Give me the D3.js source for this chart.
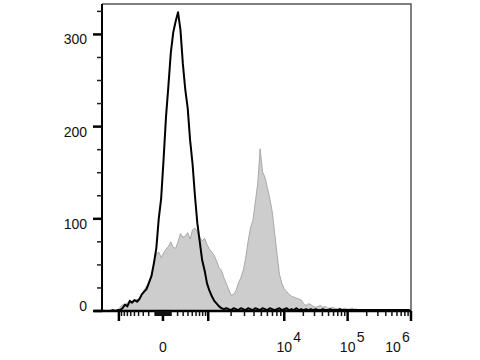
<!DOCTYPE html>
<html>
<head>
<meta charset="utf-8">
<script src="https://cdn.jsdelivr.net/npm/d3@7"></script>
<style>
  body { margin: 0; background: #fff; }
  text { font-family: "Liberation Sans", Arial, sans-serif; }
</style>
</head>
<body>
<script>
/*global d3*/

var width = 480, height = 360;

// histogram bins: 8 display channels each, 1024 channels total
var binWidth = 8;
var controlCounts = [
  0, 0, 0, 0, 1, 0, 1, 1, 3, 7, 5, 11, 9, 12, 10, 13,
  18, 21, 24, 31, 38, 52, 68, 100, 122, 164, 210, 244, 280, 302, 314, 324,
  305, 268, 240, 220, 185, 160, 125, 95, 75, 55, 44, 30, 22, 16, 11, 8,
  5, 3, 2, 3, 2, 1, 3, 2, 1, 3, 2, 1, 3, 2, 1, 3,
  2, 1, 3, 2, 1, 3, 2, 1, 2, 3, 1, 2, 3, 1, 2, 1,
  3, 1, 2, 1, 2, 1, 2, 1, 2, 1, 1, 2, 1, 1, 2, 1,
  1, 1, 2, 1, 1, 1, 1, 1, 1, 1, 1, 1, 1, 1, 1, 1,
  1, 1, 1, 1, 1, 1, 1, 1, 1, 1, 1, 1, 1, 1, 1, 1
];
var stainedCounts = [
  0, 0, 0, 0, 0, 0, 1, 4, 7, 5, 9, 7, 11, 10, 13, 12,
  19, 23, 27, 30, 39, 50, 62, 64, 58, 63, 67, 70, 75, 69, 68, 75,
  84, 80, 81, 85, 78, 88, 90, 86, 80, 76, 79, 72, 67, 64, 60, 54,
  47, 44, 36, 30, 23, 17, 18, 22, 30, 36, 44, 57, 75, 90, 98, 118,
  138, 176, 151, 145, 134, 122, 108, 85, 62, 40, 30, 24, 21, 18, 16, 15,
  14, 13, 12, 8, 6, 8, 7, 5, 4, 5, 6, 4, 5, 3, 3, 4,
  3, 2, 3, 2, 3, 2, 2, 3, 2, 2, 1, 1, 0, 0, 0, 0,
  0, 0, 0, 0, 0, 0, 0, 0, 0, 0, 0, 0, 0, 0, 0, 0
];

// logicle-style axis: decade values and the display channel where each sits
var decadeValues = [-1e3, 0, 1e3, 1e4, 1e5, 1e6];
var decadeChannels = [56, 202, 352, 604, 814, 1024];
var xLabels = [
  { value: 0, base: "0", exp: "" },
  { value: 1e4, base: "10", exp: "4" },
  { value: 1e5, base: "10", exp: "5" },
  { value: 1e6, base: "10", exp: "6" }
];
var yTicks = [0, 100, 200, 300];
var yMinor = [25, 50, 75, 125, 150, 175, 225, 250, 275, 325];
var yMax = 333;

var plotL = 102, plotR = 411, plotT = 4, plotB = 311;

var svg = d3.select("body")
    .append("svg")
    .attr("width", width)
    .attr("height", height);

var x = d3.scaleLinear().domain([0, 1024]).range([plotL, plotR]);
var y = d3.scaleLinear().domain([0, yMax]).range([plotB, plotT]);

// value -> decade units (symlog inside +-1e3, log10 outside)
function decadeUnits(v) {
  var a = Math.abs(v), s = v < 0 ? -1 : 1;
  if (a <= 1000) return s * Math.log1p(a / 400) / Math.log1p(2.5);
  return s * (1 + Math.log10(a / 1000));
}
var unitToChannel = d3.scaleLinear()
    .domain(decadeValues.map(decadeUnits))
    .range(decadeChannels);
function xv(v) { return x(unitToChannel(decadeUnits(v))); }
function yv(v) { return y(v); }

var minorValues = [];
d3.range(1, 10).forEach(function(k) {
  minorValues.push(-k * 100, -k * 10, k * 10, k * 100);
  if (k > 1) minorValues.push(k * 1e3, k * 1e4, k * 1e5);
});

function binX(d, i) { return x(i * binWidth + binWidth / 2); }

// stained (grey filled)
svg.append("path")
    .datum(stainedCounts)
    .attr("fill", "#cdcdcd")
    .attr("stroke", "#a9a9a9")
    .attr("stroke-width", 1)
    .attr("d", d3.area().x(binX).y0(y(0)).y1(yv));

// control (black line)
svg.append("path")
    .datum(controlCounts)
    .attr("fill", "none")
    .attr("stroke", "#000")
    .attr("stroke-width", 2)
    .attr("stroke-linejoin", "round")
    .attr("d", d3.line().x(binX).y(yv));

// frame: top and right in grey
svg.append("path")
    .attr("d", "M" + plotL + "," + plotT + "H" + plotR + "V" + plotB)
    .attr("fill", "none")
    .attr("stroke", "#555")
    .attr("stroke-width", 1.5);

// y axis
var yAxis = svg.append("g");
yAxis.append("line")
    .attr("x1", plotL).attr("x2", plotL)
    .attr("y1", plotT).attr("y2", plotB + 1)
    .attr("stroke", "#000").attr("stroke-width", 2);
yAxis.selectAll(".ymaj").data(yTicks).enter().append("line")
    .attr("x1", plotL - 9).attr("x2", plotL)
    .attr("y1", yv).attr("y2", yv)
    .attr("stroke", "#000").attr("stroke-width", 2.5);
yAxis.selectAll(".ymin").data(yMinor).enter().append("line")
    .attr("x1", plotL - 5).attr("x2", plotL)
    .attr("y1", yv).attr("y2", yv)
    .attr("stroke", "#222").attr("stroke-width", 1.5);
yAxis.selectAll("text").data(yTicks).enter().append("text")
    .attr("x", 87)
    .attr("y", function(d) { return d === 0 ? y(d) : y(d) + 10; })
    .attr("text-anchor", "end")
    .attr("font-size", 14)
    .attr("fill", "#111")
    .text(function(d) { return d; });

// x axis
var xAxis = svg.append("g");
xAxis.append("line")
    .attr("x1", plotL - 8).attr("x2", plotR)
    .attr("y1", plotB).attr("y2", plotB)
    .attr("stroke", "#000").attr("stroke-width", 2.5);
xAxis.selectAll(".xmaj").data(decadeValues).enter().append("line")
    .attr("x1", xv).attr("x2", xv)
    .attr("y1", plotB).attr("y2", plotB + 10)
    .attr("stroke", "#000").attr("stroke-width", 2.5);
xAxis.selectAll(".xmin").data(minorValues).enter().append("line")
    .attr("x1", xv).attr("x2", xv)
    .attr("y1", plotB).attr("y2", plotB + 5)
    .attr("stroke", "#111").attr("stroke-width", 1.5);

var lab = xAxis.selectAll(".xlab").data(xLabels).enter().append("g")
    .attr("transform", function(d) {
      return "translate(" + Math.min(xv(d.value), plotR - 18) + ",352)";
    });
lab.append("text")
    .attr("text-anchor", "middle")
    .attr("font-size", 14)
    .attr("fill", "#111")
    .text(function(d) { return d.base; });
lab.append("text")
    .attr("x", 9)
    .attr("y", -10)
    .attr("font-size", 14)
    .attr("fill", "#111")
    .text(function(d) { return d.exp; });
</script>
</body>
</html>
